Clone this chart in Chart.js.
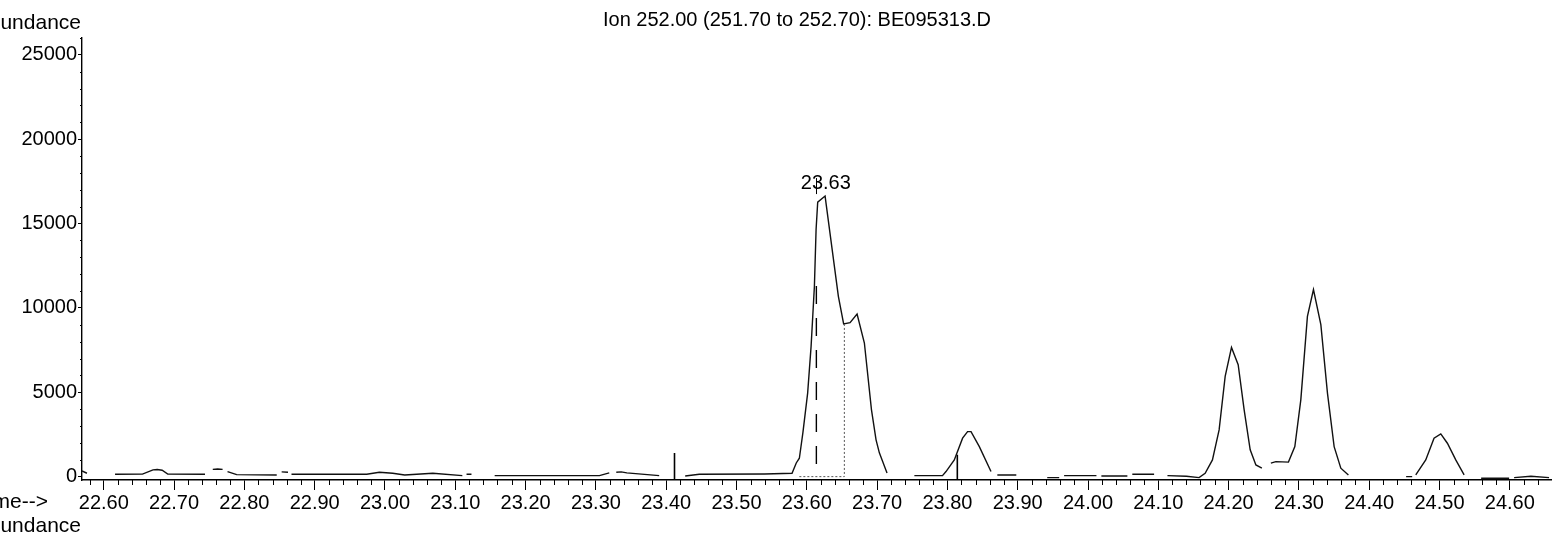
<!DOCTYPE html>
<html>
<head>
<meta charset="utf-8">
<script src="https://cdn.jsdelivr.net/npm/chart.js@4.4.0/dist/chart.umd.min.js"></script>
<style>
  html, body { margin: 0; padding: 0; background: #fff; }
  #wrap { width: 1552px; height: 540px; }
</style>
</head>
<body>
<div id="wrap"><canvas id="grafico" width="1552" height="540"></canvas></div>
<script>
// Cromatograma do íon 252 (null = interrupção do traço)
const tempos = [
  22.569, 22.576, 22.590,
  22.616, 22.655, 22.670, 22.676, 22.683, 22.691, 22.744, 22.750,
  22.755, 22.762, 22.769, 22.772,
  22.776, 22.789, 22.846, 22.850,
  22.853, 22.862, 22.865,
  22.867, 22.974, 22.992, 23.011, 23.028, 23.068, 23.110, 23.113,
  23.116, 23.123, 23.140,
  23.156, 23.305, 23.319, 23.325,
  23.329, 23.336, 23.344, 23.390, 23.410,
  23.427, 23.447, 23.540, 23.579, 23.585, 23.5894, 23.5944, 23.6012, 23.6061, 23.6108,
  23.6132, 23.6155, 23.6260, 23.6449, 23.6524, 23.6615, 23.6715, 23.6819, 23.692,
  23.6985, 23.7032, 23.7141, 23.730,
  23.753, 23.793, 23.798, 23.8098, 23.8216, 23.8287, 23.8336, 23.8454, 23.8620, 23.866,
  23.871, 23.898, 23.920,
  23.942, 23.959, 23.962,
  23.966, 24.012, 24.015,
  24.019, 24.056, 24.059,
  24.063, 24.094, 24.100,
  24.113, 24.140, 24.158, 24.1666, 24.1770, 24.1865, 24.1951, 24.2041, 24.2136,
  24.2221, 24.2307, 24.2388, 24.2473, 24.254,
  24.2601, 24.2672, 24.2851, 24.2942, 24.3027, 24.3121, 24.3207, 24.3312, 24.3406,
  24.3501, 24.3596, 24.3704, 24.400,
  24.4525, 24.4611, 24.463,
  24.4662, 24.4804, 24.4922, 24.5018, 24.5112, 24.5231, 24.5350, 24.545,
  24.5592, 24.5990, 24.602,
  24.6061, 24.6300, 24.6558
];
const abundancia = [
  340, 200, null,
  140, 150, 400, 420, 380, 150, 140, null,
  430, 450, 430, null,
  300, 120, 100, null,
  280, 260, null,
  140, 140, 260, 200, 100, 200, 60, null,
  140, 140, null,
  60, 60, 220, null,
  260, 280, 220, 60, null,
  40, 140, 160, 200, 810, 1090, 2595, 4950, 7720, 11280,
  14650, 16270, 16630, 10690, 9050, 9130, 9640, 7920, 3960,
  2180, 1410, 220, null,
  60, 60, 300, 990, 2280, 2670, 2670, 1780, 300, null,
  100, 100, null,
  -60, -60, null,
  60, 60, null,
  40, 40, null,
  140, 140, null,
  60, 20, -60, 200, 990, 2770, 5940, 7660, 6630,
  3960, 1590, 690, 500, null,
  800, 890, 860, 1780, 4550, 9500, 11090, 9010, 4950,
  1780, 500, 100, null,
  0, 0, null,
  100, 990, 2280, 2535, 1980, 990, 100, null,
  -95, -95, null,
  -60, 20, -60
];

const titulo = 'Ion 252.00 (251.70 to 252.70): BE095313.D';
const ticksY = [0, 5000, 10000, 15000, 20000, 25000];
const ticksX = [22.6, 22.7, 22.8, 22.9, 23.0, 23.1, 23.2, 23.3, 23.4, 23.5, 23.6,
                23.7, 23.8, 23.9, 24.0, 24.1, 24.2, 24.3, 24.4, 24.5, 24.6];

// marcas de integração / picos
const marcadores = [ { t: 23.4118, de: -150, ate: 1400 }, { t: 23.8141, de: -150, ate: 1300 } ];
const rotuloPico = { t: 23.627, texto: '23.63', abund: 16630 };

const FONTE = '"Liberation Sans", Arial, sans-serif';

const pluginExtras = {
  id: 'extras',
  afterDraw(chart) {
    const ctx = chart.ctx;
    const x = chart.scales.x, y = chart.scales.y;
    ctx.save();
    ctx.fillStyle = '#000';
    ctx.strokeStyle = '#000';

    // título
    ctx.font = '20px ' + FONTE;
    ctx.textAlign = 'center';
    ctx.textBaseline = 'middle';
    ctx.fillText(titulo, 797, 20);

    // rótulos cortados à esquerda (como aparecem na figura)
    ctx.font = '21px ' + FONTE;
    ctx.textAlign = 'right';
    ctx.fillText('undance', 81, 23);
    ctx.fillText('undance', 81, 526);
    ctx.font = '21px ' + FONTE;
    ctx.fillText('Time-->', 48, 502);

    // ticks menores no eixo x (a cada 0.02)
    ctx.lineWidth = 1;
    ctx.beginPath();
    for (let k = Math.ceil(x.min / 0.02); k * 0.02 <= x.max; k++) {
      if (k % 5 === 0) continue;
      const px = Math.round(x.getPixelForValue(k * 0.02)) + 0.5;
      ctx.moveTo(px, x.top);
      ctx.lineTo(px, x.top + 5);
    }
    // ticks menores no eixo y (a cada 1000)
    for (let v = 1000; v <= y.max; v += 1000) {
      if (v % 5000 === 0) continue;
      const py = Math.round(y.getPixelForValue(v)) + 0.5;
      ctx.moveTo(y.right - 2, py);
      ctx.lineTo(y.right, py);
    }
    ctx.stroke();

    // marcadores verticais
    ctx.lineWidth = 1.6;
    marcadores.forEach(m => {
      const px = x.getPixelForValue(m.t);
      ctx.beginPath();
      ctx.moveTo(px, y.getPixelForValue(m.de));
      ctx.lineTo(px, y.getPixelForValue(m.ate));
      ctx.stroke();
    });

    // linha tracejada no ápice e limites da integração
    ctx.lineWidth = 1.4;
    ctx.setLineDash([18, 14]);
    let px = x.getPixelForValue(23.6136);
    ctx.beginPath();
    ctx.moveTo(px, y.getPixelForValue(11300));
    ctx.lineTo(px, y.getPixelForValue(0));
    ctx.stroke();

    ctx.strokeStyle = '#555';
    ctx.lineWidth = 1;
    ctx.setLineDash([2, 2]);
    px = x.getPixelForValue(23.6534);
    ctx.beginPath();
    ctx.moveTo(px, y.getPixelForValue(9050));
    ctx.lineTo(px, y.getPixelForValue(0));
    ctx.moveTo(x.getPixelForValue(23.5894), y.getPixelForValue(0));
    ctx.lineTo(px, y.getPixelForValue(0));
    ctx.stroke();
    ctx.setLineDash([]);

    // rótulo do pico
    ctx.fillStyle = '#000';
    ctx.strokeStyle = '#000';
    ctx.font = '20px ' + FONTE;
    ctx.textAlign = 'center';
    ctx.textBaseline = 'middle';
    const lx = x.getPixelForValue(rotuloPico.t);
    const ly = y.getPixelForValue(rotuloPico.abund) - 13;
    ctx.fillText(rotuloPico.texto, lx, ly);
    px = Math.round(x.getPixelForValue(23.6136)) + 0.5;
    ctx.lineWidth = 1;
    ctx.beginPath();
    ctx.moveTo(px, ly - 5);
    ctx.lineTo(px, ly + 11);
    ctx.stroke();

    ctx.restore();
  }
};

new Chart(document.getElementById('grafico'), {
  type: 'line',
  data: {
    datasets: [{
      data: tempos.map((t, i) => ({ x: t, y: abundancia[i] })),
      borderColor: '#111',
      borderWidth: 1.4,
      pointRadius: 0,
      tension: 0,
      spanGaps: false,
      fill: false
    }]
  },
  options: {
    responsive: false,
    animation: false,
    devicePixelRatio: 1,
    layout: { padding: { top: 38, left: 0, right: 0, bottom: 0 } },
    plugins: { legend: { display: false }, tooltip: { enabled: false }, title: { display: false } },
    scales: {
      x: {
        type: 'linear',
        min: 22.569,
        max: 24.66,
        afterFit: s => { s.height = 60; },
        afterBuildTicks: s => { s.ticks = ticksX.map(v => ({ value: v })); },
        ticks: {
          callback: v => Number(v).toFixed(2),
          color: '#000',
          font: { family: FONTE, size: 20 },
          padding: 1,
          maxRotation: 0,
          autoSkip: false
        },
        grid: { drawOnChartArea: false, tickLength: 10, color: '#000', tickWidth: 1 },
        border: { color: '#000', width: 1.4 }
      },
      y: {
        min: -200,
        max: 26000,
        afterFit: s => { s.width = 82; },
        afterBuildTicks: s => { s.ticks = ticksY.map(v => ({ value: v })); },
        ticks: {
          callback: v => String(v),
          color: '#000',
          font: { family: FONTE, size: 20 },
          padding: 1
        },
        grid: { drawOnChartArea: false, tickLength: 4, color: '#000' },
        border: { color: '#000', width: 1.4 }
      }
    }
  },
  plugins: [pluginExtras]
});
</script>
</body>
</html>
